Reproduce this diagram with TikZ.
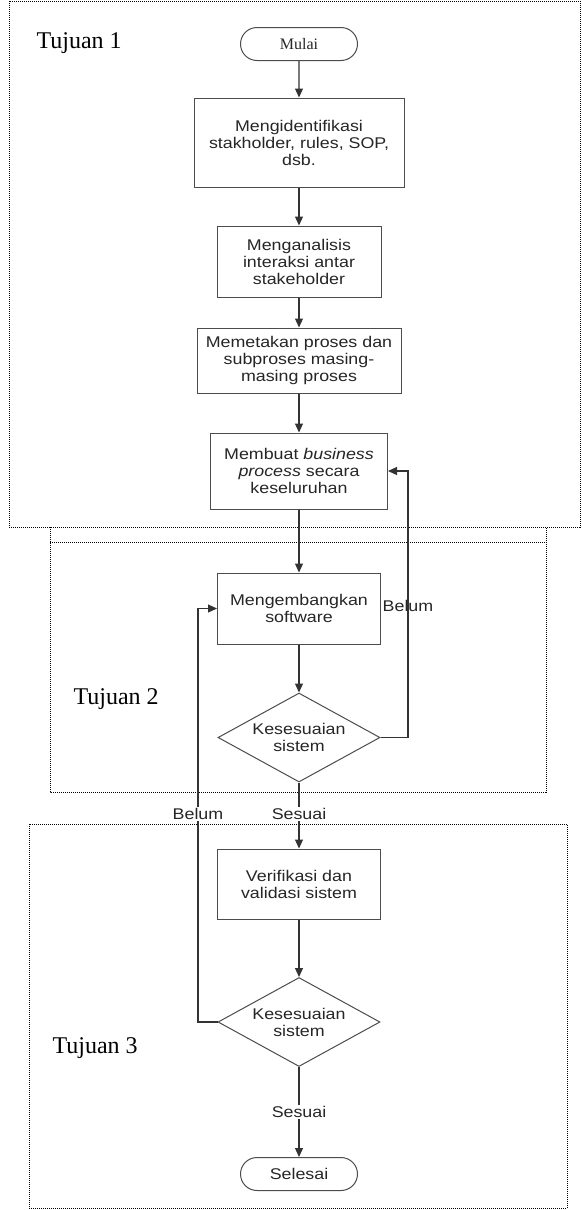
\documentclass[tikz,border=0pt]{standalone}
\usepackage{fontspec}
\setmainfont[FakeStretch=1.15]{Liberation Sans}
\newfontfamily\judulfont{Liberation Serif}
\usetikzlibrary{arrows.meta,shapes.geometric,shapes.misc}

\begin{document}
\begin{tikzpicture}[x=1pt,y=-1pt,
  proses/.style={draw=black!70, line width=1pt, fill=white, align=center,
    inner sep=0pt, text=black!85, font=\fontsize{15.5}{17}\selectfont},
  terminal/.style={proses, rounded rectangle, minimum width=117, minimum height=33},
  keputusan/.style={proses, diamond, aspect=1.8, minimum width=162, minimum height=89},
  alur/.style={draw=black!80, line width=1.2pt, -{Triangle[length=9pt,width=8pt]}},
  bingkai/.style={draw=black, line width=1pt, dash pattern=on 1pt off 1pt},
  tujuan/.style={anchor=west, font=\judulfont\fontsize{24}{28}\selectfont},
  ket/.style={inner sep=1.5pt, text=black!85, font=\fontsize{15.5}{17}\selectfont}
]
\useasboundingbox (0,0) rectangle (581,1210);

% bingkai tujuan
\draw[bingkai] (9,1) rectangle (580,527);
\draw[bingkai] (50,527) rectangle (546,792);
\draw[bingkai] (50,542) -- (546,542);
\draw[bingkai] (29,824) rectangle (567,1208);
\node[tujuan] (tujuan1) at (33,43) {Tujuan 1};
\node[tujuan] (tujuan2) at (70,699) {Tujuan 2};
\node[tujuan] (tujuan3) at (49,1048) {Tujuan 3};

% langkah
\node[terminal, font=\judulfont\fontsize{16}{18}\selectfont] (mulai) at (299,44) {Mulai};
\node[proses, minimum width=210, minimum height=89] (identifikasi) at (299,142.5)
  {Mengidentifikasi\\stakholder, rules, SOP,\\dsb.};
\node[proses, minimum width=164, minimum height=71] (analisis) at (299,261.5)
  {Menganalisis\\interaksi antar\\stakeholder};
\node[proses, minimum width=204, minimum height=65] (memetakan) at (299,360.5)
  {Memetakan proses dan\\subproses masing-\\masing proses};
\node[proses, minimum width=177, minimum height=76] (bisnis) at (299,471)
  {Membuat \textit{business}\\\textit{process} secara\\keseluruhan};
\node[proses, minimum width=163, minimum height=71] (software) at (299,608.5)
  {Mengembangkan\\software};
\node[keputusan] (sesuai1) at (299,737.5) {Kesesuaian\\sistem};
\node[proses, minimum width=163, minimum height=70] (verifikasi) at (299,884)
  {Verifikasi dan\\validasi sistem};
\node[keputusan] (sesuai2) at (299,1022) {Kesesuaian\\sistem};
\node[terminal] (selesai) at (299,1174) {Selesai};

% alur utama
\draw[alur] (mulai) -- (identifikasi);
\draw[alur] (identifikasi) -- (analisis);
\draw[alur] (analisis) -- (memetakan);
\draw[alur] (memetakan) -- (bisnis);
\draw[alur] (bisnis) -- (software);
\draw[alur] (software) -- (sesuai1);
\draw[alur] (sesuai1) -- (verifikasi);
\draw[alur] (verifikasi) -- (sesuai2);
\draw[alur] (sesuai2) -- (selesai);

% umpan balik
\coordinate (balik1) at (408,737.5);
\coordinate (balik2) at (198,1022);
\draw[alur] (sesuai1.east) -- (balik1) |- (bisnis.east);
\draw[alur] (sesuai2.west) -- (balik2) |- (software.west);

% keterangan
\node[ket] (belum1) at (408,606) {Belum};
\node[ket, fill=white] (belum2) at (198,814) {Belum};
\node[ket, fill=white] (sesuai1ket) at (299,814) {Sesuai};
\node[ket, fill=white] (sesuai2ket) at (299,1112) {Sesuai};
\end{tikzpicture}
\end{document}
